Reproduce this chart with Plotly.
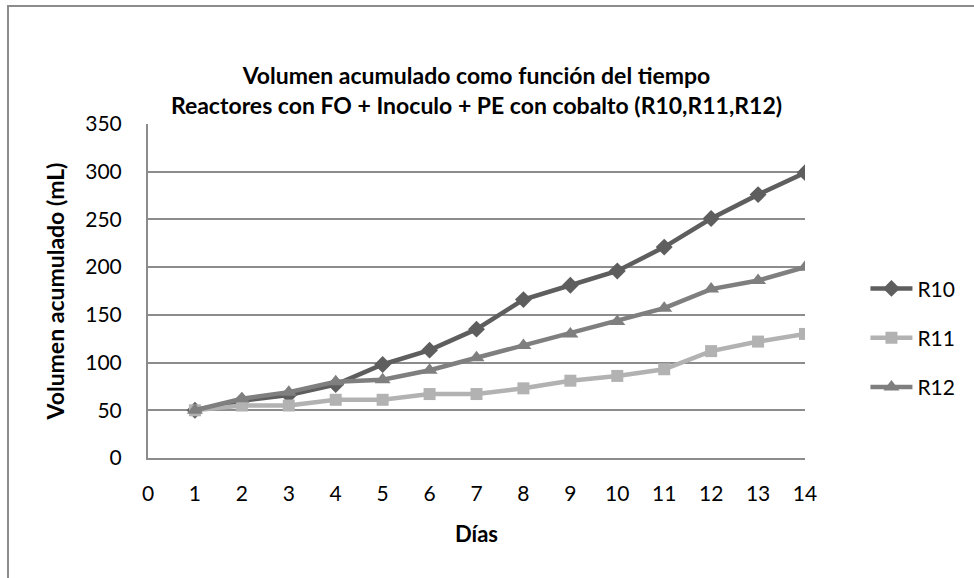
import plotly.graph_objects as go

days = list(range(1, 15))
r10 = [50, 60, 66, 77, 98, 113, 135, 166, 181, 196, 221, 251, 276, 299]
r11 = [50, 55, 55, 61, 61, 67, 67, 73, 81, 86, 93, 112, 122, 130]
r12 = [50, 62, 69, 80, 82, 92, 105, 118, 130, 143, 157, 177, 186, 200]
x_ticks = list(range(0, 15))
y_ticks = list(range(0, 351, 50))

FONT = "Lato"

fig = go.Figure()
fig.add_trace(go.Scatter(x=days, y=r10, name="R10", mode="lines+markers", legendgroup="a",
                         line=dict(color="#5e5e5e", width=4.5),
                         marker=dict(symbol="diamond", size=13, color="#5e5e5e")))
fig.add_trace(go.Scatter(x=days, y=r11, name="R11", mode="lines+markers", legendgroup="b",
                         line=dict(color="#b2b2b2", width=4.5),
                         marker=dict(symbol="square", size=12, color="#b2b2b2")))
fig.add_trace(go.Scatter(x=days, y=r12, name="R12", mode="lines+markers", legendgroup="c",
                         line=dict(color="#7f7f7f", width=4.5),
                         marker=dict(symbol="triangle-up", size=14, color="#7f7f7f")))

fig.update_layout(
    width=974, height=578,
    margin=dict(l=148, r=169, t=124, b=120, autoexpand=False),
    paper_bgcolor="white", plot_bgcolor="white",
    font=dict(family=FONT, size=21, color="black"),
    title=dict(
        text="<b>Volumen acumulado como función del tiempo<br>Reactores con FO + Inoculo + PE con cobalto (R10,R11,R12)</b>",
        x=0.5, xref="paper", y=1 - 84 / 578, yref="container", yanchor="middle",
        font=dict(family=FONT, size=23)),
    xaxis=dict(range=[0, 14], tickmode="array", tickvals=x_ticks,
               ticktext=[str(v) for v in x_ticks],
               showgrid=False, zeroline=False, showline=True,
               linecolor="#8c8c8c", linewidth=2,
               ticks="outside", ticklen=16, tickcolor="rgba(0,0,0,0)",
               title=dict(text="<b>Días</b>", standoff=22,
                          font=dict(family=FONT, size=22))),
    yaxis=dict(range=[0, 350], tickmode="array", tickvals=y_ticks,
               showgrid=True, gridcolor="#8c8c8c", gridwidth=1.5,
               zeroline=False, showline=True, linecolor="#8c8c8c", linewidth=2,
               ticks="outside", ticklen=20, tickcolor="rgba(0,0,0,0)",
               title=dict(text="<b>Volumen acumulado (mL)</b>", standoff=14,
                          font=dict(family=FONT, size=23))),
    legend=dict(x=1.092, y=0.36, xanchor="left", yanchor="middle",
                font=dict(family=FONT, size=21), tracegroupgap=19,
                itemwidth=42, bgcolor="rgba(0,0,0,0)"),
    shapes=[dict(type="rect", xref="paper", yref="paper",
                 x0=-0.2131, x1=1.5, y0=-0.6, y1=1.353,
                 line=dict(color="#8c8c8c", width=2))],
)

fig.write_html("out.html", config={"displayModeBar": False},
               post_script="document.body.style.margin='0';")
